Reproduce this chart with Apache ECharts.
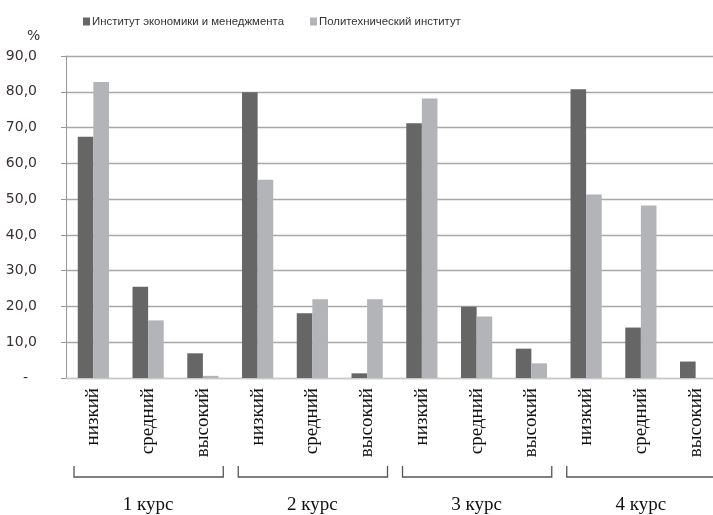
<!DOCTYPE html>
<html>
<head>
<meta charset="utf-8">
<script src="https://cdn.jsdelivr.net/npm/echarts@6/dist/echarts.min.js"></script>
<style>
  html, body { margin: 0; padding: 0; background: #fff; }
  #chart { width: 713px; height: 515px; }
</style>
</head>
<body>
<div id="chart"></div>
<script>
// levels within each course
var levels = ['низкий', 'средний', 'высокий'];
var courses = ['1 курс', '2 курс', '3 курс', '4 курс'];
var seriesNames = ['Институт экономики и менеджмента', 'Политехнический институт'];

// values, %, in order 1 курс (низкий, средний, высокий), 2 курс ...
var instEconomy = [67.4, 25.5, 6.9, 79.9, 18.1, 1.3, 71.2, 19.9, 8.2, 80.7, 14.1, 4.6];
var politech    = [82.7, 16.1, 0.6, 55.4, 22.0, 22.0, 78.1, 17.2, 4.1, 51.3, 48.2, 0];

var categories = [];
for (var c = 0; c < courses.length; c++) {
    for (var l = 0; l < levels.length; l++) {
        categories.push(levels[l]);
    }
}

var chart = echarts.init(document.getElementById('chart'));

var option = {
    backgroundColor: '#fff',
    animation: false,
    title: {
        text: '%',
        left: 22,
        top: 24,
        textStyle: { fontFamily: 'DejaVu Sans', fontSize: 14, fontWeight: 'normal', color: '#333' }
    },
    legend: {
        top: 11,
        left: 78,
        itemWidth: 7,
        itemHeight: 8,
        itemGap: 26,
        icon: 'rect',
        textStyle: { fontFamily: 'Liberation Sans', fontSize: 11.4, color: '#333', padding: [0, 0, 0, -3] },
        data: seriesNames
    },
    grid: {
        left: 66,
        top: 56,
        right: -10,
        bottom: 137,
        containLabel: false,
        outerBoundsMode: 'none'
    },
    xAxis: {
        type: 'category',
        data: categories,
        axisLine: { show: true, lineStyle: { color: '#c8c8c8', width: 1 } },
        axisTick: { show: false },
        axisLabel: {
            interval: 0,
            rotate: 90,
            margin: 10,
            fontFamily: 'Liberation Serif',
            fontSize: 19,
            color: '#111'
        }
    },
    yAxis: {
        type: 'value',
        min: 0,
        max: 90,
        interval: 10,
        axisLine: { show: true, lineStyle: { color: '#999', width: 1 } },
        axisTick: { show: true, length: 5, lineStyle: { color: '#999' } },
        axisLabel: {
            margin: 29,
            fontFamily: 'DejaVu Sans',
            fontSize: 14,
            color: '#3a3030',
            formatter: function (v) {
                return v === 0 ? '-  ' : v.toFixed(1).replace('.', ',');
            }
        },
        splitLine: { show: true, lineStyle: { color: '#a8a8a8', width: 1.3 } }
    },
    series: [
        {
            name: seriesNames[0],
            type: 'bar',
            data: instEconomy,
            barGap: '0%',
            barCategoryGap: '43%',
            itemStyle: { color: '#666667' }
        },
        {
            name: seriesNames[1],
            type: 'bar',
            data: politech,
            barGap: '0%',
            barCategoryGap: '43%',
            itemStyle: { color: '#b3b4b7' }
        }
    ]
};
chart.setOption(option);

// course brackets and labels under the category labels
var x0 = chart.convertToPixel({ xAxisIndex: 0 }, 0);
var x1 = chart.convertToPixel({ xAxisIndex: 0 }, 1);
var band = x1 - x0;
var graphics = [];
for (var g = 0; g < courses.length; g++) {
    var first = chart.convertToPixel({ xAxisIndex: 0 }, g * 3);
    var last = chart.convertToPixel({ xAxisIndex: 0 }, g * 3 + 2);
    var a = first - band / 2 + 8;
    var b = last + band / 2 - 7;
    graphics.push({
        type: 'polyline',
        shape: { points: [[a, 466], [a, 477], [b, 477], [b, 466]] },
        style: { stroke: '#555', lineWidth: 1.3, fill: null }
    });
    graphics.push({
        type: 'text',
        x: (first + last) / 2,
        y: 505,
        style: {
            text: courses[g],
            fontFamily: 'Liberation Serif',
            fontSize: 19,
            fill: '#111',
            align: 'center',
            verticalAlign: 'middle'
        }
    });
}
chart.setOption({ graphic: graphics });
</script>
</body>
</html>
